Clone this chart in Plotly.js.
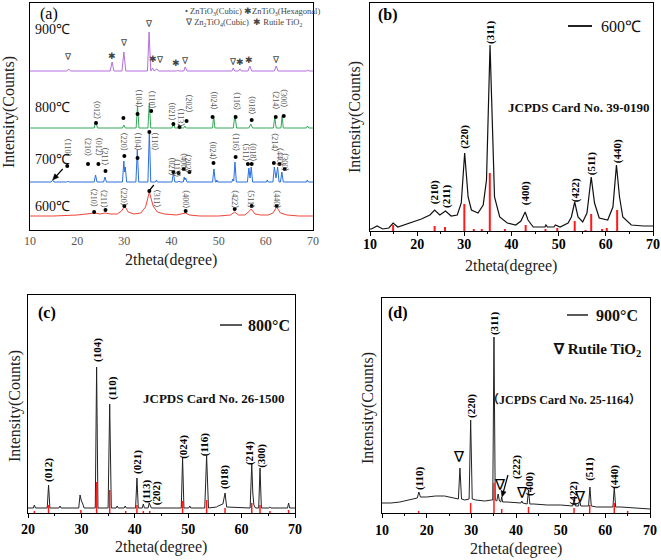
<!DOCTYPE html>
<html><head><meta charset="utf-8">
<script src="https://cdn.plot.ly/plotly-3.0.1.min.js"></script>
<style>html,body{margin:0;padding:0;background:#fff}</style>
</head><body><div id="plot" style="width:661px;height:560px"></div>
<script>
// ---------- Panel (a): stacked patterns (y in arbitrary units) ----------
const A900_X = [10,17.8,18.2,18.6,27.0,27.4,27.8,29.5,29.9,30.3,34.9,35.25,35.6,36.0,36.3,36.9,37.3,41.1,41.3,41.5,42.6,42.9,43.3,52.8,53.1,53.4,54.2,54.5,54.8,56.2,56.6,57.0,61.8,62.2,62.6,68.6,68.9,69.2,70];
const A900_Y = [159,159,161,159,159,168,159,159,178,159,159,198,159,162,159,161,159,159,160,159,159,163,159,159,162,159,159,161,159,159,164,159,159,164,159,159,160,159,159];
const A800_X = [10,23.6,23.95,24.3,29.6,29.9,30.2,32.5,32.8,33.1,35.0,35.3,35.6,40.1,40.4,40.7,41.4,41.6,41.8,42.6,42.85,43.1,48.7,48.95,49.2,53.1,53.45,53.8,56.4,56.8,57.2,61.6,61.9,62.2,63.2,63.45,63.7,68.6,68.85,69.1,70];
const A800_Y = [102,102,109,102,102,105,102,102,124,102,102,127,102,102,108,102,102,103,102,102,104,102,102,114,102,102,115,102,102,106,102,102,113,102,102,114,102,102,104,102,102];
const A700_X = [10,14.5,14.8,15.1,17.8,18.0,18.2,23.6,23.9,24.2,25.6,25.9,26.2,29.6,29.9,30.05,30.2,30.5,32.45,32.75,33.05,35.0,35.3,35.6,36.6,36.8,37.0,40.1,40.4,40.7,41.4,41.6,41.8,42.5,42.7,42.85,43.0,43.3,48.7,49.0,49.3,49.5,49.6,49.8,52.8,53.0,53.2,53.45,53.75,56.1,56.4,56.65,56.9,57.2,60.1,60.3,60.5,61.5,61.8,62.15,62.5,62.8,63.1,63.4,63.7,68.6,68.8,69.0,70];
const A700_Y = [48,48,50,48,48,49,48,48,55,48,48,53,48,48,69,58,63,48,48,80,48,48,98,48,48,50,48,48,57,48,48,49,48,48,53,50,52,48,48,61,48,48,50,48,48,51,49,68,48,48,62,52,63,48,48,50,48,48,63,52,63,48,48,58,48,48,50,48,48];
const A600_X = [10,15,20,22,23.8,24.8,25.9,27,28.5,29.4,30.1,30.8,32,33.5,34.5,35.3,36.1,37,38.5,41,42.2,43.0,43.8,46,50,52.5,53.4,54.2,55.5,56.1,56.9,57.7,59,60.5,61.5,62.3,63.1,64.5,67,70];
const A600_Y = [14,14,15,16,17,16,17,16,16,19,24,18,16,17,23,38,24,18,16,15,16,17,15,14,14,15,18,15,15,17,21,16,15,15,17,23,17,15,14,14];
// phase markers (bullets) in (a)
const A_DOT_X = [24.0,29.8,32.8,35.7,40.4,41.7,43.2,48.7,53.6,57.0,62.1,63.8, 17.9,22.3,24.5,26.0,30.0,32.8,35.3,40.4,41.5,42.6,43.8,48.9,53.6,56.2,57.0,61.7,62.9,64.0, 23.6,26.0,30.0,35.3,43.0,53.4,57.0,62.3];
const A_DOT_Y = [107,112,116,119,106,103,109,113,113,110,113,114, 64,66,66,59,74,72,98,58,57,61,58,67,73,66,66,67,66,61, 18,20,24,39,19,21,24,24];
// 900 °C phase symbols
const A_SYM_T = ['∇','✱','∇','∇','✱','∇','✱','∇','∇','✱','✱','∇'];
const A_SYM_X = [18.1,27.4,29.9,35.3,36.1,37.5,41.0,42.8,53.0,54.5,56.5,62.1];
const A_SYM_Y = [173,174,187,206,171,170,167,169,168,168,170,170];
// hkl labels in (a)
const A800_L = ['（012）','（104）','（110）','（021）','（113）','（202）','（024）','（116）','（018）','（214）','（300）'];
const A800_LX = [24.0,32.8,35.7,39.8,41.7,43.4,48.7,53.6,56.8,61.9,63.6];
const A800_LY = [120,132,130,119,113,127,130,129,125,130,132];
const A700_L = ['（110）','（210）','（012）','（211）','（220）','（104）','（110）','（021）','（113）','（400）','（202）','（024）','（116）','（511）','（018）','（214）','（440）','（300）'];
const A700_LX = [18.1,22.3,24.7,26.0,30.0,33.0,36.6,40.0,41.1,42.6,43.6,48.9,53.6,55.7,57.2,61.9,63.0,64.0];
const A700_LY = [82,83,83,73,88,88,88,64,62,68,66,79,88,78,78,88,73,68];
const A600_L = ['（210）','（211）','（220）','（311）','（400）','（422）','（511）','（440）'];
const A600_LX = [23.6,25.7,30.0,37.0,43.0,53.4,56.8,62.3];
const A600_LY = [32,31,33,31,31,31,31,31];

// ---------- Panel (b): 600 °C ----------
const B_X = [10,10.3,11.5,12.7,14.0,14.9,15.9,18.4,20.9,22.7,23.7,24.8,26.0,27.2,28.5,29.35,30.07,30.8,31.5,32.9,34.0,34.7,35.1,35.45,35.8,36.0,36.4,37.5,39.1,40.9,42.0,42.9,43.5,44.6,47.1,47.3,47.6,49.0,49.3,50.3,52.0,52.7,53.4,54.1,55.1,56.0,56.9,57.6,58.6,60.4,61.5,62.25,62.9,63.6,65.4,68,70];
const B_Y = [2,2,5,2,3,8,4,8,12,16,21,16,20,15,16,28,78,34,21,18,26,51,120,186,130,98,34,14,8,6,10,19,11,4,4,6,4,4,6,4,8,14,29,14,9,18,54,28,13,11,24,66,34,14,6,5,5];
const B_REF_X = [14.9,23.7,25.9,30.0,32.0,33.7,35.4,38.6,43.0,47.2,49.7,53.4,55.7,56.9,59.2,60.2,62.4];
const B_REF_H = [6,5,4,27,2,2,58,2,6,2,3,10,1,17,2,3,21];
const B_L = ['(210)','(211)','(220)','(311)','(400)','(422)','(511)','(440)'];
const B_LX = [23.6,26.1,29.9,35.65,42.9,53.5,56.9,62.4];
const B_LY = [39,35,94,199,38,41,68,80];

// ---------- Panel (c): 800 °C ----------
const C_X = [20,21.0,21.2,21.4,23.6,23.85,24.1,25.8,26.0,26.2,29.5,29.75,30.0,30.2,30.5,32.0,32.6,32.85,33.1,35.0,35.3,35.6,36.5,36.7,36.9,38.0,38.2,38.4,40.15,40.4,40.65,41.4,41.6,41.8,42.5,42.7,42.9,43.1,48.7,48.95,49.2,50.1,50.3,50.5,53.1,53.45,53.8,55.3,55.6,56.1,56.5,56.9,57.2,61.6,61.9,62.1,62.3,62.6,63.2,63.45,63.7,65.1,65.3,65.5,68.6,68.8,69.0,70];
const C_Y = [5,5,8,5,5,28,5,5,7,5,5,18,12,10,5,5,5,146,5,5,109,5,5,7,5,5,7,5,5,35,5,5,9,5,5,10,8,5,5,55,5,5,7,5,5,57,5,6,7,8,9,20,6,5,49,20,8,5,5,45,5,5,6,5,5,10,5,5];
const C_REF_X = [21.2,23.85,29.9,32.85,35.3,38.3,40.4,41.6,42.8,48.95,53.45,56.9,61.9,63.45,65.3,68.8];
const C_REF_H = [2,8,3,31,23,2,8,2,2,12,13,5,10,8,2,3];
const C_L = ['(012)','(104)','(110)','(021)','(113)','(202)','(024)','(116)','(018)','(214)','(300)'];
const C_LX = [23.75,32.9,35.7,40.4,42.1,44.0,49.0,53.0,56.7,61.4,63.6];
const C_LY = [43,163,125,51,22,20,66,69,36,60,57];

// ---------- Panel (d): 900 °C ----------
const D_X = [10,12,14,16,17.9,18.25,18.6,20,22,24,26,27.1,27.45,27.8,28.5,29.5,29.85,30.2,31,33,34.5,34.8,35.07,35.35,35.7,36.0,36.3,36.6,36.8,37.0,38,40,41.1,41.3,41.5,42.5,42.8,43.1,44,47,50,52.7,53.0,53.3,54.0,54.25,54.5,55.5,56.25,56.55,56.85,58,60,61.7,62.0,62.3,63.5,66,69,70];
const D_Y = [10,10,11,13,15,21,16,16,17,17,15,14,45,14,13,14,93,14,13,12,13,13,176,13,12,19,12,11,16,11,11,10,10,12,10,9,23,9,9,8,8,7,14,7,7,13,7,7,7,26,7,6,6,6,26,6,6,5,4,4];
const D_REF_X = [18.2,29.85,35.07,36.8,42.8,53.0,56.5,62.0,65.0];
const D_REF_H = [2,10,30,4,6,5,8,10,2];
const D_L = ['(110)','(220)','(311)','(222)','(400)','(422)','(511)','(440)'];
const D_LX = [18.3,29.9,35.1,40.0,42.9,52.8,56.3,61.9];
const D_LY = [35,107,190,46,29,20,44,36];
const D_TRI_X = [27.2,36.4,41.3,54.3];
const D_TRI_Y = [56,28,20,16];

// ---------- helpers ----------
const W = 661, H = 560;
const PX = p => p / W, PY = p => 1 - p / H;
const SERIF = 'Liberation Serif, Times New Roman, serif';
const CJK = 'Liberation Serif, Noto Sans CJK SC, serif';
function sticks(xs, hs) { const X = [], Y = []; xs.forEach((x, i) => { X.push(x, x, null); Y.push(0, hs[i], null); }); return {X, Y}; }
function labels(txt, xs, ys, xr, yr, font, angle) {
  return txt.map((t, i) => ({text: t, x: xs[i], y: ys[i], xref: xr, yref: yr, showarrow: false, textangle: angle, font: font, xanchor: 'center', yanchor: 'middle'}));
}
function ptext(t, x, y, font, opts) { return Object.assign({text: t, x: PX(x), y: PY(y), xref: 'paper', yref: 'paper', showarrow: false, font: font, xanchor: 'center', yanchor: 'middle'}, opts || {}); }
// arrow drawn as shapes: head at data (x,y), tail offset (dx,dy) in screen px
function arrow(xr, yr, x, y, dx, dy, kx, ky, head) {
  const L = Math.hypot(dx, dy), ux = dx / L, uy = dy / L;
  const tx = x + dx / kx, ty = y - dy / ky;
  const out = [{type: 'line', xref: xr, yref: yr, x0: x + ux * (head ? 3 : 0) / kx, y0: y - uy * (head ? 3 : 0) / ky, x1: tx, y1: ty, line: {color: '#000', width: 1.2}}];
  if (head) {
    const bx = ux * 6, by = uy * 6, px = -uy * 2.6, py = ux * 2.6;
    const pts = [[0, 0], [bx + px, by + py], [bx - px, by - py]].map(p => [x + p[0] / kx, y - p[1] / ky]);
    out.push({type: 'path', xref: xr, yref: yr, path: 'M' + pts.map(p => p[0] + ',' + p[1]).join(' L') + ' Z', fillcolor: '#000', line: {color: '#000', width: 0.5}});
  }
  return out;
}

const bS = sticks(B_REF_X, B_REF_H), cS = sticks(C_REF_X, C_REF_H), dS = sticks(D_REF_X, D_REF_H);

const traces = [
  {x: A900_X, y: A900_Y, xaxis: 'x', yaxis: 'y', mode: 'lines', line: {color: '#b56ee0', width: 1}},
  {x: A800_X, y: A800_Y, xaxis: 'x', yaxis: 'y', mode: 'lines', line: {color: '#35a85a', width: 1}},
  {x: A700_X, y: A700_Y, xaxis: 'x', yaxis: 'y', mode: 'lines', line: {color: '#2a6fe0', width: 1}},
  {x: A600_X, y: A600_Y, xaxis: 'x', yaxis: 'y', mode: 'lines', line: {color: '#f0443a', width: 1}},
  {x: A_DOT_X, y: A_DOT_Y, xaxis: 'x', yaxis: 'y', mode: 'markers', marker: {color: '#000', size: 4}},
  {x: B_X, y: B_Y, xaxis: 'x2', yaxis: 'y2', mode: 'lines', line: {color: '#111', width: 1.2}},
  {x: bS.X, y: bS.Y, xaxis: 'x2', yaxis: 'y2', mode: 'lines', line: {color: '#ff1a1a', width: 2}, connectgaps: false},
  {x: C_X, y: C_Y, xaxis: 'x3', yaxis: 'y3', mode: 'lines', line: {color: '#222', width: 1}},
  {x: cS.X, y: cS.Y, xaxis: 'x3', yaxis: 'y3', mode: 'lines', line: {color: '#ff1a1a', width: 1.5}, connectgaps: false},
  {x: D_X, y: D_Y, xaxis: 'x4', yaxis: 'y4', mode: 'lines', line: {color: '#222', width: 1}},
  {x: dS.X, y: dS.Y, xaxis: 'x4', yaxis: 'y4', mode: 'lines', line: {color: '#ff1a1a', width: 1.5}, connectgaps: false}
];

const frame = {showline: true, mirror: true, linecolor: '#000', linewidth: 1, zeroline: false, showgrid: false, fixedrange: true};
const boldTick = {family: SERIF, size: 14, color: '#000', weight: 'bold'};
function xb(dom, range, standoff) {
  return Object.assign({}, frame, {domain: dom, range: range, tick0: 10, dtick: 10, ticks: 'outside', ticklen: 4, tickcolor: '#000', tickfont: boldTick, ticklabelstandoff: standoff,
    minor: {ticks: 'outside', ticklen: 2, dtick: 5, tickcolor: '#000'}});
}
function yb(dom, range) { return Object.assign({}, frame, {domain: dom, range: range, showticklabels: false, ticks: ''}); }

const layout = {
  width: W, height: H, margin: {l: 0, r: 0, t: 0, b: 0}, showlegend: false,
  paper_bgcolor: '#fff', plot_bgcolor: '#fff',
  xaxis: Object.assign({}, frame, {domain: [PX(30), PX(313)], range: [10, 70], tick0: 10, dtick: 10, ticks: '', tickfont: {family: SERIF, size: 12, color: '#555'}, anchor: 'y'}),
  yaxis: Object.assign(yb([PY(230), PY(3)], [0, 227]), {anchor: 'x'}),
  xaxis2: Object.assign(xb([PX(370), PX(653)], [10, 70], -4), {anchor: 'y2'}),
  yaxis2: Object.assign(yb([PY(231), PY(3)], [0, 228]), {anchor: 'x2'}),
  xaxis3: Object.assign(xb([PX(28), PX(295)], [20, 70], -1), {anchor: 'y3'}),
  yaxis3: Object.assign(yb([PY(513), PY(295)], [0, 218]), {anchor: 'x3'}),
  xaxis4: Object.assign(xb([PX(382), PX(650)], [10, 70], 0), {anchor: 'y4'}),
  yaxis4: Object.assign(yb([PY(513), PY(298)], [0, 215]), {anchor: 'x4'}),
  shapes: [
    {type: 'line', xref: 'paper', yref: 'paper', x0: PX(568), x1: PX(592), y0: PY(26), y1: PY(26), line: {color: '#222', width: 2}},
    {type: 'line', xref: 'paper', yref: 'paper', x0: PX(220), x1: PX(242), y0: PY(325), y1: PY(325), line: {color: '#222', width: 1.5}},
    {type: 'line', xref: 'paper', yref: 'paper', x0: PX(567), x1: PX(588), y0: PY(315), y1: PY(315), line: {color: '#222', width: 1.5}}
  ],
  annotations: []
};
layout.shapes.push(...arrow('x', 'y', 14.8, 50, 10, -11, 4.7, 1, true));
layout.shapes.push(...arrow('x', 'y', 35.4, 40, 4, -5, 4.7, 1, false));
layout.shapes.push(...arrow('x4', 'y4', 36.86, 16, 6, -22, 4.467, 1, true));

const ann = layout.annotations;
const smallGray = {family: CJK, size: 8, color: '#555'};
const boldLbl = {family: SERIF, size: 11, color: '#000', weight: 'bold'};
ann.push(...labels(A_SYM_T, A_SYM_X, A_SYM_Y, 'x', 'y', {family: 'DejaVu Sans', size: 9, color: '#444'}, 0));
ann.push(...labels(A800_L, A800_LX, A800_LY, 'x', 'y', smallGray, 90));
ann.push(...labels(A700_L, A700_LX, A700_LY, 'x', 'y', smallGray, 90));
ann.push(...labels(A600_L, A600_LX, A600_LY, 'x', 'y', smallGray, 90));
ann.push(...labels(B_L, B_LX, B_LY, 'x2', 'y2', boldLbl, -90));
ann.push(...labels(C_L, C_LX, C_LY, 'x3', 'y3', boldLbl, -90));
ann.push(...labels(D_L, D_LX, D_LY, 'x4', 'y4', boldLbl, -90));
ann.push(...D_TRI_X.map((x, i) => ({text: '∇', x: x, y: D_TRI_Y[i], xref: 'x4', yref: 'y4', showarrow: false, font: {family: 'DejaVu Sans', size: 15, color: '#000'}})));

// panel texts
const ser16 = {family: SERIF, size: 16, color: '#222'};
ann.push(ptext('(a)', 38, 14, {family: SERIF, size: 16, color: '#000'}, {xanchor: 'left'}));
ann.push(ptext('• ZnTiO<sub>3</sub>(Cubic) ✱ZnTiO<sub>3</sub>(Hexagonal)', 183, 11, {family: SERIF, size: 8.5, color: '#444'}, {xanchor: 'left'}));
ann.push(ptext('∇ Zn<sub>2</sub>TiO<sub>4</sub>(Cubic)  ✱ Rutile TiO<sub>2</sub>', 183, 23, {family: SERIF, size: 8.5, color: '#444'}, {xanchor: 'left'}));
[['900℃', 29], ['800℃', 108], ['700℃', 159], ['600℃', 206]].forEach(t => ann.push(ptext(t[0], 33, t[1], {family: SERIF, size: 14, color: '#111'}, {xanchor: 'left'})));
ann.push(ptext('2theta(degree)', 171, 260, ser16));
ann.push(ptext('Intensity(Counts)', 9, 112, ser16, {textangle: -90}));

ann.push(ptext('(b)', 376, 15, {family: SERIF, size: 16, color: '#000', weight: 'bold'}, {xanchor: 'left'}));
ann.push(ptext('600℃', 599, 26, {family: SERIF, size: 16, color: '#111'}, {xanchor: 'left'}));
ann.push(ptext('JCPDS Card No. 39-0190', 579, 108, {family: SERIF, size: 13, color: '#111', weight: 'bold'}));
ann.push(ptext('2theta(degree)', 511, 266, ser16));
ann.push(ptext('Intensity(Counts)', 355, 117, ser16, {textangle: -90}));

ann.push(ptext('(c)', 36, 313, {family: SERIF, size: 16, color: '#000', weight: 'bold'}, {xanchor: 'left'}));
ann.push(ptext('800°C', 246, 325, {family: SERIF, size: 16, color: '#111', weight: 'bold'}, {xanchor: 'left'}));
ann.push(ptext('JCPDS Card No. 26-1500', 214, 398, {family: SERIF, size: 13, color: '#111', weight: 'bold'}));
ann.push(ptext('2theta(degree)', 161, 547, ser16));
ann.push(ptext('Intensity(Counts)', 15, 406, ser16, {textangle: -90}));

ann.push(ptext('(d)', 386, 313, {family: SERIF, size: 16, color: '#000', weight: 'bold'}, {xanchor: 'left'}));
ann.push(ptext('900°C', 594, 315, {family: SERIF, size: 16, color: '#111', weight: 'bold'}, {xanchor: 'left'}));
ann.push(ptext('∇ Rutile TiO<sub>2</sub>', 643, 350, {family: SERIF, size: 15, color: '#111', weight: 'bold'}, {xanchor: 'right'}));
ann.push(ptext('（JCPDS Card No. 25-1164）', 564, 400, {family: CJK, size: 12, color: '#111', weight: 'bold'}));
ann.push(ptext('2theta(degree)', 516, 549, ser16));
ann.push(ptext('Intensity(Counts)', 368, 408, ser16, {textangle: -90}));

Plotly.newPlot('plot', traces, layout, {staticPlot: true, displayModeBar: false});
</script>
</body></html>
